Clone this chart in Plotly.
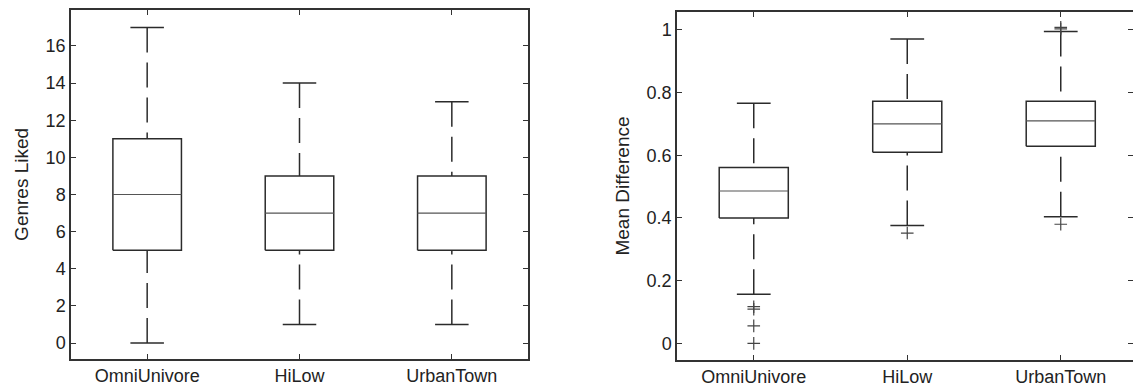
import plotly.graph_objects as go

categories = ["OmniUnivore", "HiLow", "UrbanTown"]
positions = [1, 2, 3]

# Left panel: Genres Liked
genres_lower = [0, 1, 1]
genres_q1 = [5, 5, 5]
genres_median = [8, 7, 7]
genres_q3 = [11, 9, 9]
genres_upper = [17, 14, 13]
genres_outliers = [[], [], []]
genres_ticks = [0, 2, 4, 6, 8, 10, 12, 14, 16]

# Right panel: Mean Difference
md_lower = [0.157, 0.376, 0.404]
md_q1 = [0.400, 0.610, 0.629]
md_median = [0.486, 0.700, 0.710]
md_q3 = [0.561, 0.772, 0.772]
md_upper = [0.766, 0.971, 0.995]
md_outliers = [[0.117, 0.109, 0.056, 0.0], [0.352], [0.380, 1.003, 1.008]]
md_ticks = [0, 0.2, 0.4, 0.6, 0.8, 1]
md_ticktext = ["0", "0.2", "0.4", "0.6", "0.8", "1"]

BOX_HW = 0.225
CAP_HW = 0.11
LINE = "#2b2b2b"
FONT = "Liberation Sans, Arial, sans-serif"

fig = go.Figure()


def add_panel(xa, ya, lower, q1, med, q3, upper, outliers):
    bx, by = [], []
    mx, my = [], []
    cx, cy = [], []
    ox, oy = [], []
    for i, p in enumerate(positions):
        bx += [p - BOX_HW, p + BOX_HW, p + BOX_HW, p - BOX_HW, p - BOX_HW, None]
        by += [q1[i], q1[i], q3[i], q3[i], q1[i], None]
        mx += [p - BOX_HW, p + BOX_HW, None]
        my += [med[i], med[i], None]
        cx += [p - CAP_HW, p + CAP_HW, None, p - CAP_HW, p + CAP_HW, None]
        cy += [lower[i], lower[i], None, upper[i], upper[i], None]
        for v in outliers[i]:
            ox.append(p)
            oy.append(v)
        # whiskers drawn from cap toward box, dashed
        for a, b in [(upper[i], q3[i]), (lower[i], q1[i])]:
            fig.add_trace(go.Scatter(
                x=[p, p], y=[a, b], mode="lines", xaxis=xa, yaxis=ya,
                line=dict(color=LINE, width=1.5, dash="25px,10px"),
                hoverinfo="skip", showlegend=False))
    fig.add_trace(go.Scatter(x=bx, y=by, mode="lines", xaxis=xa, yaxis=ya,
                             line=dict(color=LINE, width=1.5),
                             hoverinfo="skip", showlegend=False))
    fig.add_trace(go.Scatter(x=mx, y=my, mode="lines", xaxis=xa, yaxis=ya,
                             line=dict(color="#555555", width=1.2),
                             hoverinfo="skip", showlegend=False))
    fig.add_trace(go.Scatter(x=cx, y=cy, mode="lines", xaxis=xa, yaxis=ya,
                             line=dict(color=LINE, width=1.5),
                             hoverinfo="skip", showlegend=False))
    if ox:
        fig.add_trace(go.Scatter(x=ox, y=oy, mode="markers", xaxis=xa, yaxis=ya,
                                 marker=dict(symbol="cross-thin", size=9,
                                             line=dict(color="#444444", width=1.2)),
                                 hoverinfo="skip", showlegend=False))


add_panel("x", "y", genres_lower, genres_q1, genres_median, genres_q3,
          genres_upper, genres_outliers)
add_panel("x2", "y2", md_lower, md_q1, md_median, md_q3, md_upper, md_outliers)

# invisible trace for the right-hand tick axis of the second panel
fig.add_trace(go.Scatter(x=[1], y=[0.5], xaxis="x2", yaxis="y3", mode="markers",
                         marker=dict(opacity=0), hoverinfo="skip", showlegend=False))

axis_common = dict(showgrid=False, zeroline=False, showline=True,
                   linecolor="#333333", linewidth=1.5, ticks="inside",
                   ticklen=5, tickwidth=1, tickcolor="#333333",
                   tickfont=dict(family=FONT, size=18, color="#222222"))

fig.update_layout(
    width=1133, height=389, autosize=False,
    margin=dict(l=0, r=0, t=0, b=0),
    paper_bgcolor="white", plot_bgcolor="white",
    xaxis=dict(domain=[71 / 1133, 528 / 1133], range=[0.5, 3.5],
               tickvals=positions, ticktext=categories, mirror="ticks",
               anchor="y", **axis_common),
    yaxis=dict(domain=[1 - 358.5 / 389, 1 - 10.3 / 389], range=[-0.83, 17.92],
               tickvals=genres_ticks, mirror="ticks", anchor="x",
               title=dict(text="Genres Liked", standoff=12,
                          font=dict(family=FONT, size=19, color="#222222")),
               **axis_common),
    xaxis2=dict(domain=[677 / 1133, 1.0], range=[0.5, 0.5 + (1133 - 677) / 153.5],
                tickvals=positions, ticktext=categories, mirror="ticks",
                anchor="y2", **axis_common),
    yaxis2=dict(domain=[1 - 360 / 389, 1 - 12 / 389], range=[-0.053, 1.057],
                tickvals=md_ticks, ticktext=md_ticktext, mirror=False, anchor="x2",
                title=dict(text="Mean Difference", standoff=12,
                           font=dict(family=FONT, size=19, color="#222222")),
                **axis_common),
    yaxis3=dict(overlaying="y2", anchor="x2", side="right", range=[-0.053, 1.057],
                tickvals=md_ticks, showticklabels=False, showgrid=False,
                zeroline=False, showline=False, ticks="inside", ticklen=5,
                tickwidth=1, tickcolor="#333333"),
)

fig.write_html("out.html")
